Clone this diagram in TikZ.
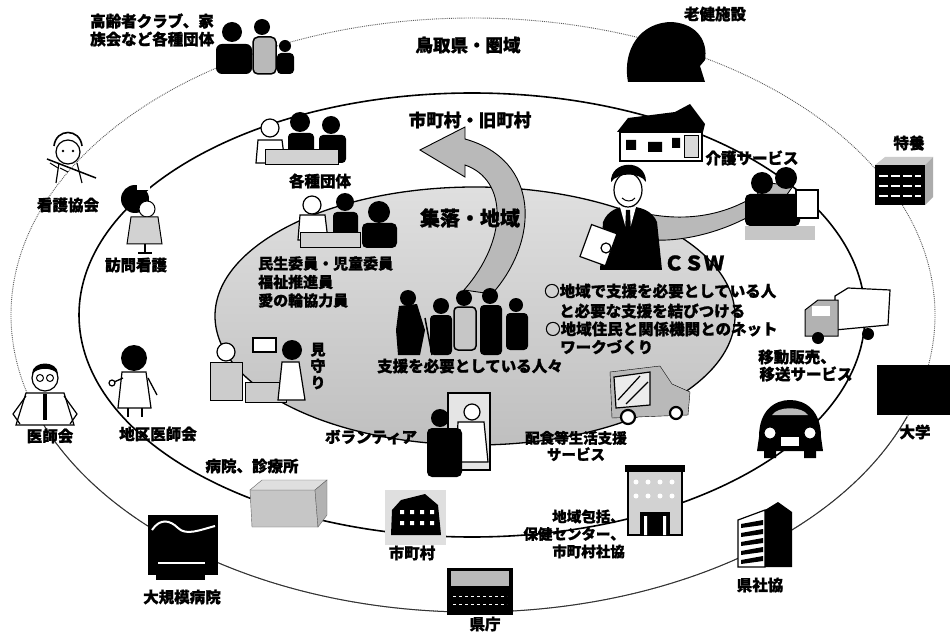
\documentclass[tikz,border=0pt]{standalone}
\usepackage{fontspec}
\newfontfamily\jp{Noto Sans CJK JP}[BoldFeatures={FakeBold=1.2}]
\begin{document}
\begin{tikzpicture}[x=1pt,y=-1pt,
  lab/.style={font=\jp\bfseries\fontsize{15.5}{18}\selectfont, inner sep=0pt, align=center},
  labbig/.style={lab, font=\jp\bfseries\fontsize{17.5}{20}\selectfont},
  ink/.style={fill=black},
  outl/.style={draw=black, line width=1.2pt, fill=white},
  tone/.style={draw=black, line width=1pt, fill=gray!45},
  ring/.style={draw=black, line width=1.6pt},
  farring/.style={draw=black!65, line width=0.9pt, densely dotted},
  bigarrow/.style={fill=gray!55, draw=black, line width=0.9pt},
]
\useasboundingbox (0,0) rectangle (950,644);
\fill[white] (0,0) rectangle (950,644);

% ---------- rings ----------
\draw[farring] (473,315) ellipse [x radius=462, y radius=297];
\draw[draw=black!80, line width=1pt] (907.1,416.6) arc [start angle=20, end angle=160, x radius=462, y radius=297];
\draw[ring] (472,315) ellipse [x radius=393, y radius=222];
\shade[top color=gray!25, middle color=white, bottom color=gray!50] (475,316) ellipse [x radius=260, y radius=129];
\draw[line width=1.3pt] (475,316) ellipse [x radius=260, y radius=129];

% ---------- broad arrows ----------
\filldraw[bigarrow] (492,294) .. controls (540,240) and (540,160) .. (465,139) -- (465,127) -- (420,150) -- (465,177) -- (465,165) .. controls (508,180) and (508,240) .. (464,290) -- cycle;
\filldraw[bigarrow] (648,214) .. controls (690,222) and (728,214) .. (758,194) -- (754,181) -- (793,186) -- (772,216) -- (766,206) .. controls (735,228) and (690,242) .. (652,240) -- cycle;

% ---------- clubs and family groups ----------
\fill (232,32) circle (10);
\fill[rounded corners=6] (216,44) rectangle (252,74);
\fill (262,27) circle (8);
\filldraw[fill=gray!55, draw=black, line width=1.5pt, rounded corners=5] (253,37) rectangle (276,74);
\fill (285,46) circle (6);
\fill[rounded corners=4] (277,53) rectangle (294,74);

% ---------- care facility ----------
\fill (628,82) .. controls (622,50) and (640,22) .. (672,22) .. controls (698,24) and (708,42) .. (705,60) -- (700,66) -- (705,82) -- cycle;

% ---------- nursing association ----------
\draw[outl] (68,152) circle (12);
\draw[line width=1.6pt] (54,146) .. controls (56,128) and (80,128) .. (82,146);
\fill (63,151) circle (1.3) (73,151) circle (1.3);
\draw[line width=1.2pt] (59,163) -- (56,183) (77,163) -- (82,183);
\draw[line width=1.5pt] (47,159) -- (96,178);
\draw[line width=1pt] (50,163) -- (58,168) (60,168) -- (68,172);

% ---------- visiting nurse ----------
\fill (135,199) circle (14);
\draw[outl, line width=1pt] (147,209) circle (8);
\fill[white] (137,184) rectangle (150,190);
\draw[tone, fill=gray!35] (131,217) -- (158,217) -- (162,244) -- (127,244) -- cycle;
\draw[line width=1.5pt] (145,244) -- (145,253) (138,253) -- (152,253);

% ---------- groups ----------
\draw[outl] (270,128) circle (9);
\draw[outl] (258,140) -- (282,140) -- (285,163) -- (256,163) -- cycle;
\fill (300,122) circle (10);
\fill[rounded corners=4] (288,133) rectangle (314,163);
\fill (331,125) circle (9);
\fill[rounded corners=4] (319,135) rectangle (346,163);
\draw[tone, fill=gray!35] (265,150) rectangle (338,165);

% ---------- care service house ----------
\fill (617,132) -- (628,118) -- (675,112) -- (690,104) -- (705,124) -- (703,132) -- cycle;
\draw[outl] (620,132) rectangle (702,161);
\fill (626,140) rectangle (636,150) (648,142) rectangle (662,152) (672,138) rectangle (680,148);
\draw[tone, fill=gray!30] (684,136) rectangle (698,158);

% ---------- special nursing home ----------
\fill[gray!40] (875,165) -- (885,157) -- (933,157) -- (925,165) -- cycle;
\fill[gray!65] (925,165) -- (933,157) -- (933,197) -- (925,205) -- cycle;
\fill (875,165) rectangle (925,205);
\foreach \yy in {176,186,196}
  \draw[white, line width=1.2pt, dash pattern=on 9pt off 3pt] (879,\yy) -- (921,\yy);

% ---------- welfare volunteers ----------
\draw[outl] (312,205) circle (9);
\draw[outl] (300,215) -- (325,215) -- (328,240) -- (298,240) -- cycle;
\fill (345,202) circle (9);
\fill[rounded corners=4] (333,212) rectangle (358,240);
\fill (379,212) circle (11);
\fill[rounded corners=5] (362,223) rectangle (397,248);
\draw[tone, fill=gray!35] (300,233) rectangle (360,248);

% ---------- CSW ----------
\fill (600,270) -- (603,222) .. controls (608,210) and (618,207) .. (628,206) .. controls (640,207) and (652,210) .. (657,222) -- (662,270) -- cycle;
\fill[white] (620,207) -- (628,236) -- (636,207) -- cycle;
\fill (626,210) -- (630,210) -- (631,232) -- (628,238) -- (625,232) -- cycle;
\draw[outl] (628,190) ellipse [x radius=14, y radius=17];
\fill (611,182) .. controls (610,160) and (646,158) .. (646,182) .. controls (640,172) and (618,172) .. cycle;
\draw[line width=1pt] (622,198) .. controls (626,202) and (632,202) .. (635,198);
\draw[outl, rotate around={-20:(598,245)}] (585,228) rectangle (612,262);
\draw[outl] (606,248) circle (5);

% ---------- care service family ----------
\fill (762,183) circle (11);
\fill (786,178) circle (11);
\fill[rounded corners=5] (745,194) rectangle (800,226);
\draw[outl] (796,190) rectangle (818,218);
\fill[gray!45] (745,226) rectangle (815,240);

% ---------- mobile shop truck ----------
\draw[outl] (835,296) -- (848,288) -- (890,290) -- (888,325) -- (835,330) -- cycle;
\filldraw[fill=gray!60, draw=black, line width=1pt] (805,310) -- (818,300) -- (838,300) -- (838,336) -- (805,336) -- cycle;
\fill[white] (812,306) rectangle (830,316);
\fill (818,338) circle (6) (868,334) circle (6);

% ---------- people in need ----------
\fill (408,298) circle (8);
\fill (399,306) -- (417,304) -- (425,330) -- (420,355) -- (398,355) -- (396,330) -- cycle;
\draw[line width=1.5pt] (425,318) -- (432,355);
\fill (441,306) circle (8);
\fill[rounded corners=4] (430,315) rectangle (452,355);
\fill (464,298) circle (8);
\filldraw[fill=gray!45, draw=black, line width=1.5pt, rounded corners=4] (454,307) rectangle (476,350);
\fill (490,296) circle (8);
\fill[rounded corners=4] (480,305) rectangle (502,355);
\fill (516,305) circle (7);
\fill[rounded corners=4] (506,313) rectangle (528,350);

% ---------- watching over ----------
\draw[tone, fill=gray!40] (210,362) rectangle (242,400);
\draw[outl] (226,352) circle (9);
\draw[line width=1.6pt, fill=white] (253,338) rectangle (276,352);
\draw[tone, fill=gray!40] (245,382) rectangle (286,402);
\fill (292,350) circle (10);
\draw[outl] (282,362) -- (299,362) -- (305,400) -- (278,400) -- cycle;

% ---------- doctors ----------
\draw[outl] (45,378) circle (13);
\fill (32,374) .. controls (32,360) and (58,360) .. (58,374) .. controls (52,367) and (38,367) .. cycle;
\draw[line width=1pt] (40,378) circle (3.5) (50,378) circle (3.5);
\draw[outl] (26,393) -- (64,393) -- (74,425) -- (16,425) -- cycle;
\fill (43,394) rectangle (47,420);
\draw[line width=1.2pt] (26,396) -- (13,414) -- (20,424) (64,396) -- (77,414) -- (70,424);

\fill (134,358) circle (13);
\draw[outl] (122,372) -- (146,372) -- (151,408) -- (118,408) -- cycle;
\draw[line width=1.3pt] (123,378) -- (112,383);
\draw[outl] (112,383) circle (3);
\draw[line width=1.3pt] (148,378) -- (157,395);
\draw[line width=1.6pt] (128,408) -- (128,417) (142,408) -- (142,417);

% ---------- hospital and clinic ----------
\filldraw[fill=gray!45, draw=black!60] (250,490) -- (315,490) -- (318,527) -- (252,527) -- cycle;
\filldraw[fill=gray!25, draw=black!60] (250,490) -- (262,480) -- (327,480) -- (315,490) -- cycle;
\filldraw[fill=gray!60, draw=black!60] (315,490) -- (327,480) -- (327,515) -- (318,527) -- cycle;

% ---------- volunteers at the door ----------
\draw[tone, fill=gray!20, line width=1.6pt] (448,393) rectangle (490,470);
\draw[outl] (472,412) circle (8);
\draw[outl] (458,422) -- (484,422) -- (488,462) -- (456,462) -- cycle;
\fill (440,418) circle (9);
\fill[rounded corners=5] (427,428) rectangle (462,477);

% ---------- meal delivery van ----------
\filldraw[fill=gray!55, draw=black] (610,372) -- (660,366) -- (672,384) -- (690,392) -- (688,415) -- (612,418) -- cycle;
\filldraw[fill=gray!15, draw=black, line width=1.2pt] (614,377) -- (650,372) -- (650,405) -- (616,408) -- cycle;
\draw[line width=1.2pt] (618,400) -- (640,376) (626,404) -- (648,382);
\draw[line width=2.2pt, fill=white] (628,417) circle (7) (676,413) circle (6);

% ---------- car ----------
\fill (759,437) .. controls (759,410) and (775,400) .. (790,400) .. controls (805,400) and (821,410) .. (821,437) -- (823,451) -- (757,451) -- cycle;
\fill[gray!55] (772,415) .. controls (778,406) and (802,406) .. (808,415) -- cycle;
\draw[outl, line width=1pt] (770,433) circle (6) (810,433) circle (6);
\fill[white] (781,437) rectangle (799,446);
\fill (764,450) rectangle (776,458) (804,450) rectangle (816,458);

% ---------- university ----------
\fill (877,365) rectangle (950,415);

% ---------- community support centre ----------
\draw[tone, fill=gray!35, line width=1.5pt] (628,470) rectangle (682,535);
\fill (625,465) rectangle (685,472);
\foreach \xx in {636,648,660,672}
  \fill[white] (\xx,482) circle (2.5) (\xx,496) circle (2.5);
\fill (640,512) rectangle (670,535);
\fill[white] (644,516) rectangle (647,535) (663,516) rectangle (666,535);

% ---------- municipal office ----------
\fill[gray!25] (385,490) rectangle (446,545);
\fill (391,535) -- (392,510) -- (401,500) -- (425,494) -- (438,505) -- (441,535) -- cycle;
\foreach \xx in {400,410,420,430}
  \fill[white] (\xx,510) rectangle ++(4,4) (\xx,521) rectangle ++(4,4);

% ---------- large hospital ----------
\fill (148,515) rectangle (218,575);
\draw[white, line width=2pt] (152,530) .. controls (160,518) and (170,520) .. (178,528) .. controls (186,536) and (200,530) .. (215,526);
\draw[white, line width=2pt] (158,563) -- (205,563);
\fill (156,566) rectangle (205,580);

% ---------- prefectural office ----------
\fill (447,568) rectangle (513,615);
\fill[gray!55] (451,571) rectangle (509,586);
\draw[white, dash pattern=on 3pt off 3pt] (453,596) -- (507,596) (453,604) -- (507,604);

% ---------- prefectural council ----------
\draw[line width=1.2pt, fill=white] (738,520) -- (765,510) -- (765,567) -- (738,567) -- cycle;
\foreach \yy in {524,533,542,551,560}
  \fill (741,\yy) -- (763,\yy-4) -- (763,\yy+1) -- (741,\yy+4) -- cycle;
\fill (765,510) -- (778,502) -- (792,512) -- (792,567) -- (765,567) -- cycle;

% ---------- labels ----------
\node[lab, align=left, anchor=west] (club) at (90,30) {高齢者クラブ、家\\族会など各種団体};
\node[labbig] (pref) at (468,45) {鳥取県・圏域};
\node[lab] (roken) at (715,14) {老健施設};
\node[labbig] (town) at (470,120) {市町村・旧町村};
\node[lab] (kaigo) at (752,158) {介護サービス};
\node[lab] (tokuyo) at (909,143) {特養};
\node[lab] (kango) at (68,205) {看護協会};
\node[lab] (homon) at (136,265) {訪問看護};
\node[lab] (dantai) at (320,181) {各種団体};
\node[font=\jp\bfseries\fontsize{20}{22}\selectfont, inner sep=0pt] (shuraku) at (470,218) {集落・地域};
\node[lab, align=left, anchor=west, font=\jp\bfseries\fontsize{15}{18.5}\selectfont] (minsei) at (258,282) {民生委員・児童委員\\福祉推進員\\愛の輪協力員};
\node[font=\jp\bfseries\fontsize{20}{22}\selectfont, inner sep=0pt] (csw) at (694,263) {ＣＳＷ};
\node[lab, anchor=west] (r1) at (544,291) {○地域で支援を必要としている人};
\node[lab, anchor=west] (r2) at (559,311) {と必要な支援を結びつける};
\node[lab, anchor=west] (r3) at (545,329) {○地域住民と関係機関とのネット};
\node[lab, anchor=west] (r4) at (560,347) {ワークづくり};
\node[lab, font=\jp\bfseries\fontsize{15}{16.5}\selectfont] (mimamori) at (318,366) {見\\守\\り};
\node[lab] (needs) at (470,366) {支援を必要としている人々};
\node[lab] (idou1) at (797,357) {移動販売、};
\node[lab] (idou2) at (806,374) {移送サービス};
\node[lab] (vol) at (371,437) {ボランティア};
\node[lab, font=\jp\bfseries\fontsize{14.5}{16.5}\selectfont] (haishoku) at (576,446) {配食等生活支援\\サービス};
\node[lab] (ishi) at (50,436) {医師会};
\node[lab] (chiku) at (158,434) {地区医師会};
\node[lab] (daigaku) at (915,432) {大学};
\node[lab] (byoin) at (252,466) {病院、診療所};
\node[lab, align=right, anchor=east, font=\jp\bfseries\fontsize{14.5}{17.5}\selectfont] (hokatsu) at (625,534) {地域包括、\\保健センター、\\市町村社協};
\node[lab] (shicho) at (412,553) {市町村};
\node[lab] (kensha) at (760,585) {県社協};
\node[lab] (daikibo) at (182,597) {大規模病院};
\node[lab] (kencho) at (485,624) {県庁};
\end{tikzpicture}
\end{document}
